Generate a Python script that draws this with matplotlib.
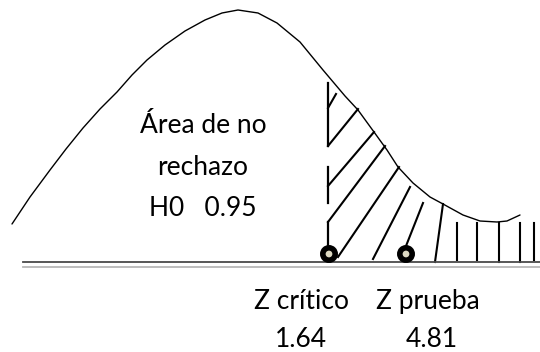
import matplotlib.pyplot as plt
from matplotlib.patches import Circle

# sketch coordinates in pixels of the 540x352 picture (y grows downwards)
curve_x = [12, 30, 50, 66, 83, 100, 117, 132, 147, 165, 185, 205, 222, 238, 258, 277, 300,
           323, 345, 358, 374, 387, 398, 413, 430, 443, 463, 480, 497, 507, 520]
curve_y = [224, 197, 170, 149, 128, 109, 92, 75, 60, 45, 31, 20, 13, 10, 13, 23, 42,
           70, 96, 110, 132, 150, 167, 183, 197, 204, 215, 221, 222, 221, 215]

# dashed vertical at Z critico
crit_x = 328
crit_dashes = [(83, 146), (167, 203), (222, 248)]

# hatching of the rejection area
hatch = [
    (328, 108, 336, 94),
    (328, 146, 358, 109),
    (328, 186, 374, 132),
    (328, 222, 385, 146),
    (338, 257, 399, 167),
    (373, 259, 410, 187),
    (406, 246, 423, 203),
    (435, 262, 443, 204),
    (457, 260, 457, 223),
    (477, 260, 477, 223),
    (499, 262, 499, 223),
    (520, 262, 520, 223),
    (534, 260, 534, 223),
]

# points marking Z critico and Z prueba on the axis
marks_x = [329, 406]
marks_y = [254, 254]

axis_y = 262
axis_x0, axis_x1 = 23, 540

center_text = ["Área de no", "rechazo", "H0   0.95"]
center_text_x = 203
center_text_y = [133, 175, 216]

bottom_labels = ["Z crítico", "Z prueba"]
bottom_values = ["1.64", "4.81"]
bottom_label_x = [302, 428]
bottom_value_x = [301, 432]

fig = plt.figure(figsize=(5.4, 3.52), dpi=100)
ax = fig.add_axes([0, 0, 1, 1])
ax.set_xlim(0, 540)
ax.set_ylim(352, 0)
ax.axis('off')

ax.plot(curve_x, curve_y, color='black', lw=1.0, solid_capstyle='round')

for y0, y1 in crit_dashes:
    ax.plot([crit_x, crit_x], [y0, y1], color='black', lw=1.6)

for x0, y0, x1, y1 in hatch:
    ax.plot([x0, x1], [y0, y1], color='black', lw=1.5)

# double axis line: dark with light shadow below
ax.plot([axis_x0, axis_x1], [axis_y, axis_y], color='#4a4a4a', lw=1.3)
ax.plot([axis_x0, axis_x1], [axis_y + 4.5, axis_y + 4.5], color='#b8b8b8', lw=1.3)

for mx, my in zip(marks_x, marks_y):
    ax.add_patch(Circle((mx, my), 6.2, facecolor='#ddd9c3', edgecolor='black', lw=4.0, zorder=5))

font = dict(family=['Lato', 'DejaVu Sans'], fontsize=19, color='black')
for t, ty in zip(center_text, center_text_y):
    ax.text(center_text_x, ty, t, ha='center', va='baseline', **font)

for t, tx in zip(bottom_labels, bottom_label_x):
    ax.text(tx, 309, t, ha='center', va='baseline', **font)
for t, tx in zip(bottom_values, bottom_value_x):
    ax.text(tx, 347, t, ha='center', va='baseline', **font)

fig.savefig('out.png', dpi=100)
